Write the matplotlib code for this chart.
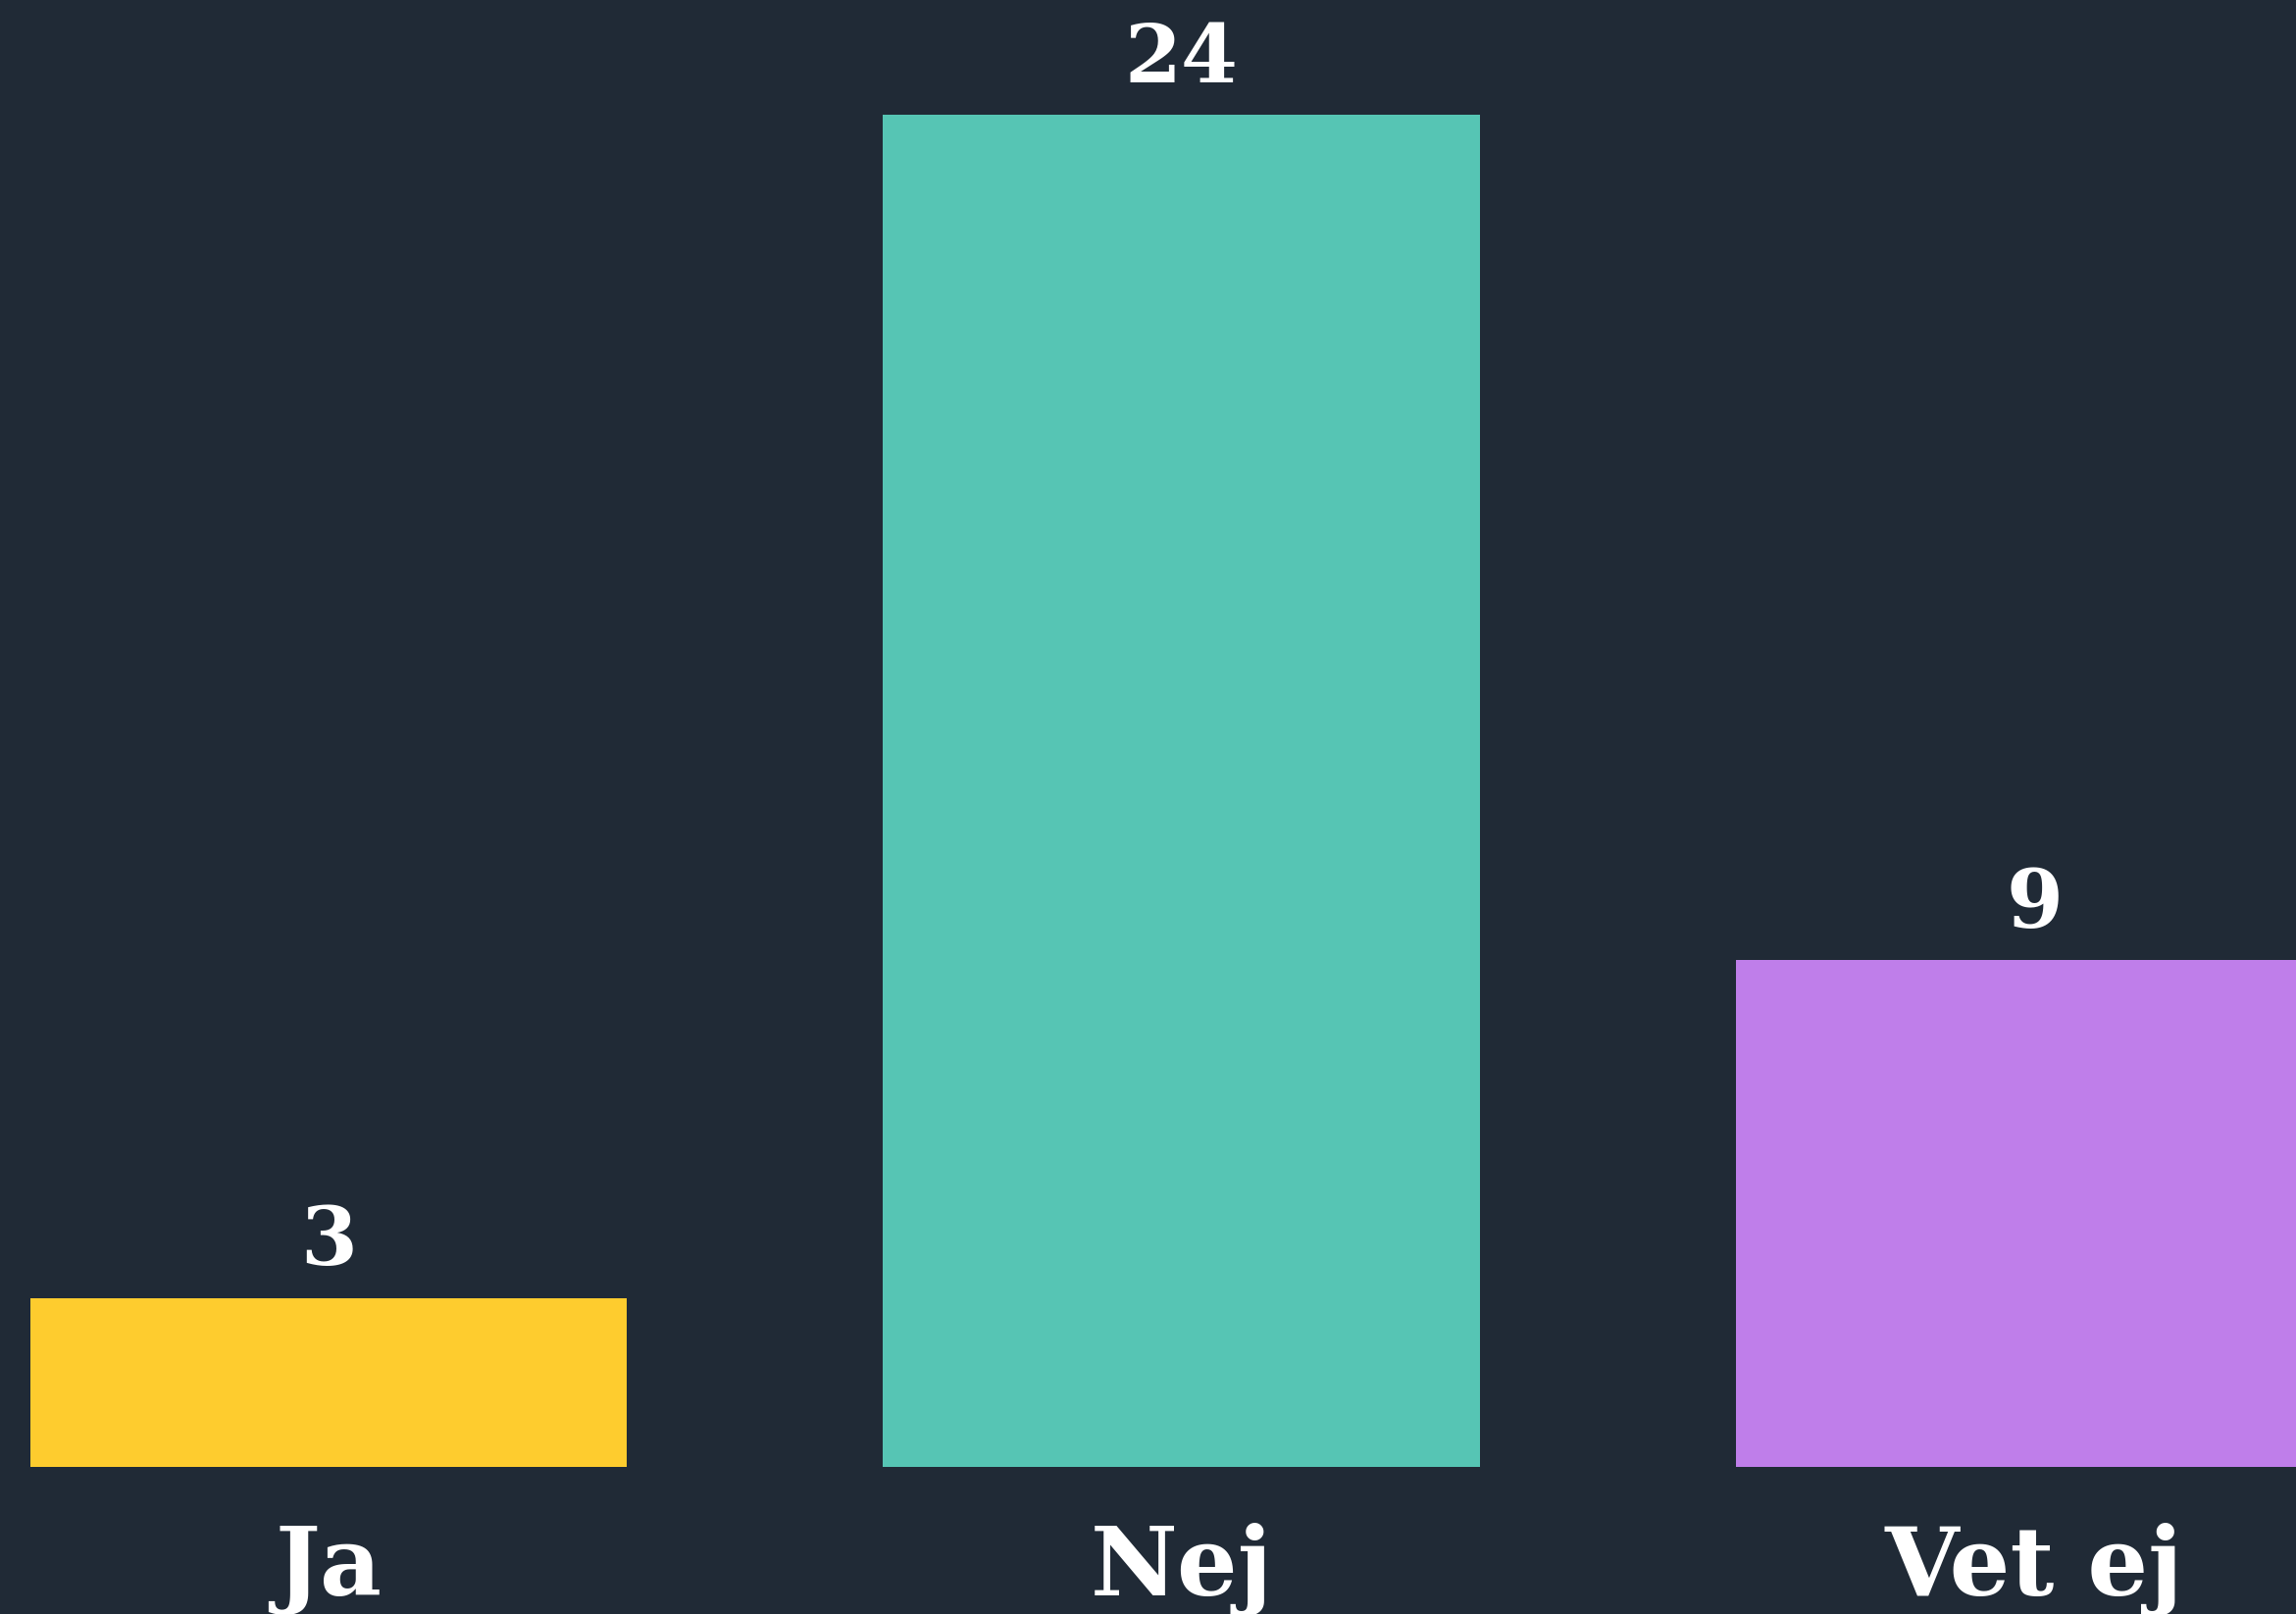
import matplotlib.pyplot as plt
import numpy as np

categories = ["Ja", "Nej", "Vet ej"]
values = [3, 24, 9]
colors = ["#fecc2e", "#56c5b4", "#bf7eea"]

BG = "#202a36"
W, H, DPI = 2341, 1646, 100

fig = plt.figure(figsize=(W / DPI, H / DPI), dpi=DPI, facecolor=BG)
ax = fig.add_axes([0, 150 / H, 1, 1 - 150 / H])
ax.set_facecolor(BG)

x = np.arange(len(categories))
ax.bar(x, values, width=0.70, color=colors)

# bar spacing ~869.5 px, first bar centre at 335 px
ax.set_xlim(-335 / 869.5, (W - 335) / 869.5)
ax.set_ylim(0, 1496 / 57.46)
ax.axis("off")

font = dict(family="DejaVu Serif", weight="bold", color="white")
for xi, v, cat in zip(x, values, categories):
    ax.annotate(str(v), (xi, v), xytext=(0, 24), textcoords="offset points",
                ha="center", va="baseline", fontsize=60, **font)
    ax.annotate(cat, (xi, 0), xytext=(0, -94), textcoords="offset points",
                ha="center", va="baseline", fontsize=70, annotation_clip=False, **font)

fig.savefig("out.png", dpi=DPI, facecolor=BG)
